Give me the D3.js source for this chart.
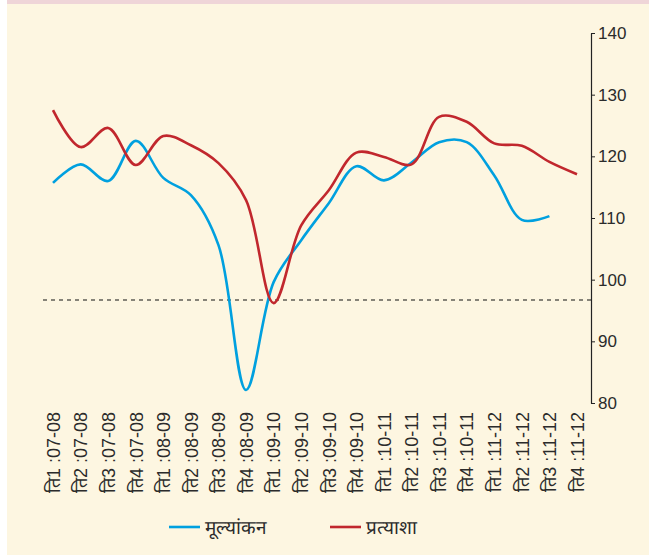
<!DOCTYPE html>
<html>
<head>
<meta charset="utf-8">
<script src="https://cdn.jsdelivr.net/npm/d3@7"></script>
<style>
  html, body { margin: 0; padding: 0; background: #fff; }
  svg { display: block; font-family: 'Liberation Serif', 'DejaVu Serif', serif; }
</style>
</head>
<body>
<div id="chart"></div>
<script>
const quarters = [
  'ति1 :07-08', 'ति2 :07-08', 'ति3 :07-08', 'ति4 :07-08',
  'ति1 :08-09', 'ति2 :08-09', 'ति3 :08-09', 'ति4 :08-09',
  'ति1 :09-10', 'ति2 :09-10', 'ति3 :09-10', 'ति4 :09-10',
  'ति1 :10-11', 'ति2 :10-11', 'ति3 :10-11', 'ति4 :10-11',
  'ति1 :11-12', 'ति2 :11-12', 'ति3 :11-12', 'ति4 :11-12',
];

// मूल्यांकन (assessment) - no value for the last quarter
const assessment = [
  115.7, 118.7, 116.0, 122.5, 116.5, 113.7, 105.6, 82.1, 99.6, 106.4,
  112.4, 118.4, 116.1, 119.0, 122.3, 122.3, 116.9, 109.7, 110.3, null,
];

// प्रत्याशा (expectation)
const expectation = [
  127.5, 121.5, 124.6, 118.6, 123.3, 121.8, 118.9, 112.9, 96.2, 108.8,
  114.5, 120.6, 119.9, 118.7, 126.4, 125.6, 122.1, 121.7, 119.1, 117.1,
];

const yTicks = [80, 90, 100, 110, 120, 130, 140];
const threshold = 96.7;

const series = [
  { name: 'मूल्यांकन', values: assessment, color: '#00a0df' },
  { name: 'प्रत्याशा', values: expectation, color: '#c1272d' },
];

const width = 649, height = 555;

const svg = d3.select('#chart')
  .append('svg')
  .attr('width', width)
  .attr('height', height);

// background panel + pink strip on top
svg.append('rect')
  .attr('x', 7).attr('y', 0)
  .attr('width', width - 7).attr('height', height)
  .attr('fill', '#fdf6e1');
svg.append('rect')
  .attr('x', 7).attr('y', 0)
  .attr('width', width - 7).attr('height', 4)
  .attr('fill', '#efd5d8');

const x = d3.scalePoint()
  .domain(quarters)
  .range([53, 577]);

const y = d3.scaleLinear()
  .domain([80, 140])
  .range([403, 33]);

// right axis
const yAxis = svg.append('g')
  .attr('transform', 'translate(591,0)')
  .call(d3.axisRight(y).tickValues(yTicks).tickSize(4).tickPadding(3).tickSizeOuter(0));
yAxis.select('.domain').attr('stroke', '#222').attr('stroke-width', 1.2);
yAxis.selectAll('.tick line').attr('stroke', '#222');
yAxis.selectAll('.tick text')
  .attr('fill', '#2b2b2b')
  .style('font-size', '17px');

// category labels, rotated
const xAxis = svg.append('g')
  .attr('transform', 'translate(0,412)')
  .call(d3.axisBottom(x).tickSize(0).tickPadding(0));
xAxis.select('.domain').remove();
xAxis.selectAll('.tick text')
  .attr('fill', '#2b2b2b')
  .style('font-size', '18px')
  .attr('text-anchor', 'end')
  .attr('dy', '0.35em')
  .attr('dx', 0)
  .attr('y', 0)
  .attr('transform', 'rotate(-90)');

// dashed reference line
svg.append('line')
  .attr('x1', 43).attr('x2', 591)
  .attr('y1', y(threshold)).attr('y2', y(threshold))
  .attr('stroke', '#111')
  .attr('stroke-width', 1.2)
  .attr('stroke-dasharray', '4,4');

const line = d3.line()
  .defined((d) => d != null)
  .x((d, i) => x(quarters[i]))
  .y((d) => y(d))
  .curve(d3.curveCatmullRom.alpha(0.5));

svg.selectAll('.series')
  .data(series)
  .enter()
  .append('path')
  .attr('class', 'series')
  .attr('fill', 'none')
  .attr('stroke', (d) => d.color)
  .attr('stroke-width', 2.6)
  .attr('d', (d) => line(d.values));

// legend
const legendItem = svg.selectAll('.legend')
  .data(series)
  .enter()
  .append('g')
  .attr('class', 'legend')
  .attr('transform', (d, i) => `translate(${169 + i * 161}, 527)`);

legendItem.append('line')
  .attr('x1', 0).attr('x2', 31)
  .attr('stroke', (d) => d.color)
  .attr('stroke-width', 2.6);

legendItem.append('text')
  .attr('x', 36)
  .attr('dy', '0.35em')
  .attr('fill', '#2b2b2b')
  .style('font-size', '19px')
  .text((d) => d.name);
</script>
</body>
</html>
